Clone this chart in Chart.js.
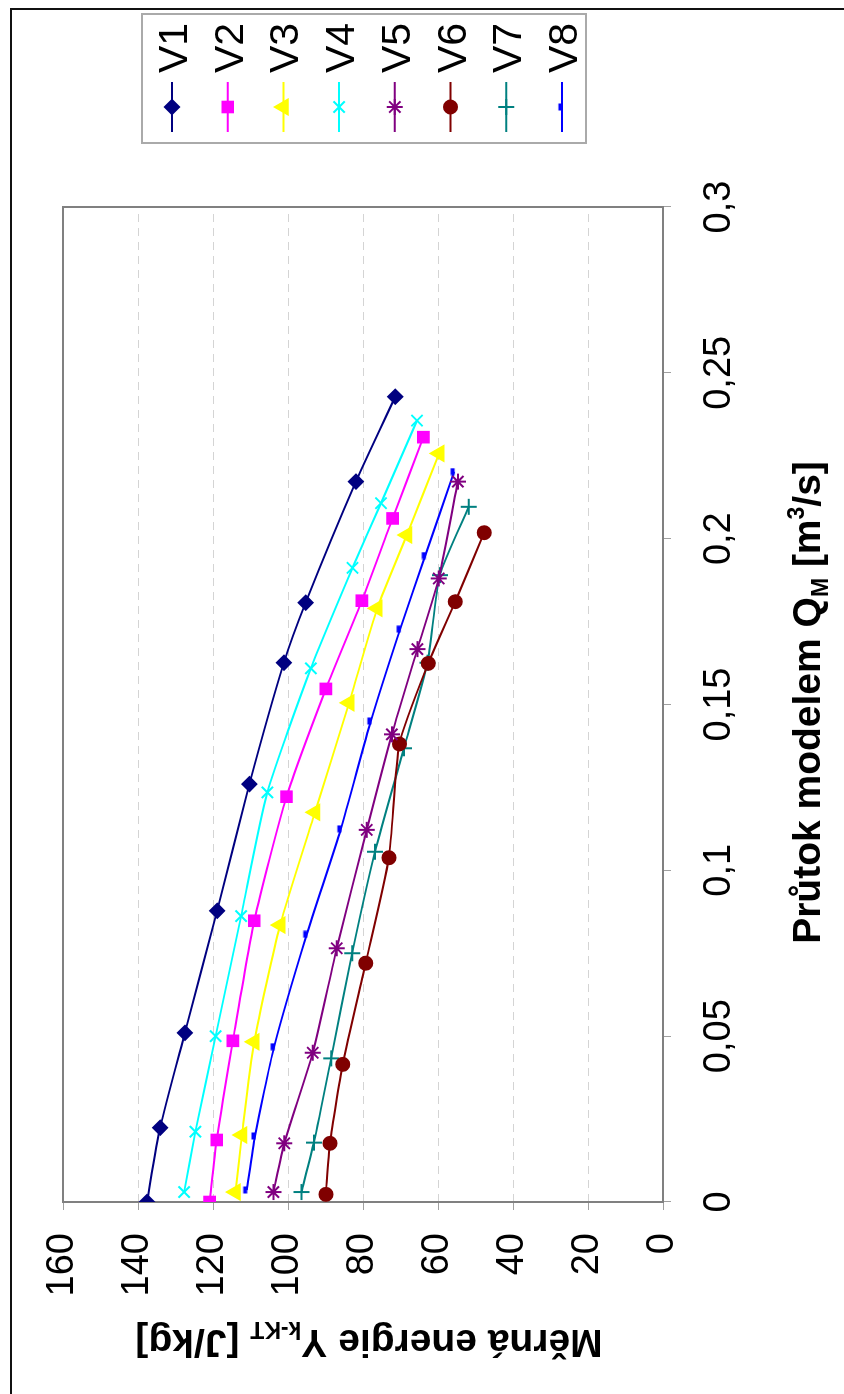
<!DOCTYPE html>
<html>
<head>
<meta charset="utf-8">
<title>Měrná energie</title>
<script src="https://cdn.jsdelivr.net/npm/chart.js@4.4.1/dist/chart.umd.min.js"></script>
<style>
html, body { margin: 0; padding: 0; background: #fff; width: 844px; height: 1394px; overflow: hidden; }
/* graf je kreslen na sirku a otocen o 90 stupnu proti smeru hodin */
#otoceni { position: absolute; left: 0; top: 0; width: 1394px; height: 844px;
  transform-origin: 0 0; transform: translate(0, 1394px) rotate(-90deg); }
#ramecek { position: absolute; left: -10px; top: 10px; width: 1396px; height: 850px;
  border-top: 2px solid #111; border-right: 2px solid #111; box-sizing: border-box; }
#graf { position: absolute; left: 0; top: 0; }
</style>
</head>
<body>
<div id="otoceni">
  <div id="ramecek"></div>
  <canvas id="graf" width="1394" height="844"></canvas>
</div>
<script>
// data: prutok Q [m3/s] a merna energie Y [J/kg]
const serie = ['V1', 'V2', 'V3', 'V4', 'V5', 'V6', 'V7', 'V8'];
const barvy = ['#000080', '#ff00ff', '#ffff00', '#00ffff', '#800080', '#800000', '#008080', '#0000ff'];

const q1 = [0, 0.0224, 0.051, 0.0878, 0.126, 0.1626, 0.1807, 0.2172, 0.2428];
const e1 = [137.6, 134.1, 127.5, 118.9, 110.3, 101.1, 95.3, 81.9, 71.4];
const q2 = [0, 0.0187, 0.0486, 0.0848, 0.1222, 0.1547, 0.1813, 0.2061, 0.2306];
const e2 = [120.9, 119.0, 114.7, 109.0, 100.4, 89.9, 80.3, 72.1, 63.9];
const q3 = [0.003, 0.0202, 0.0483, 0.0835, 0.1175, 0.1505, 0.179, 0.2011, 0.2257];
const e3 = [114.0, 112.3, 109.0, 102.1, 92.8, 83.7, 76.2, 68.3, 59.7];
const q4 = [0.003, 0.0212, 0.05, 0.0862, 0.1235, 0.1609, 0.1912, 0.2107, 0.2356];
const e4 = [127.7, 124.7, 119.3, 112.5, 105.5, 93.9, 82.8, 75.2, 65.6];
const q5 = [0.003, 0.0177, 0.045, 0.0765, 0.1122, 0.141, 0.1667, 0.188, 0.2172];
const e5 = [103.9, 101.0, 93.4, 87.0, 79.0, 72.3, 65.5, 59.8, 54.7];
const q6 = [0.0023, 0.0177, 0.0415, 0.072, 0.1038, 0.1381, 0.1624, 0.181, 0.2018];
const e6 = [89.9, 88.8, 85.4, 79.3, 73.1, 70.3, 62.6, 55.4, 47.7];
const q7 = [0.003, 0.0179, 0.0433, 0.075, 0.1056, 0.1368, 0.1626, 0.189, 0.2096];
const e7 = [96.4, 93.1, 88.5, 82.9, 76.8, 69.1, 62.8, 59.5, 51.8];
const q8 = [0.0036, 0.0199, 0.0468, 0.0807, 0.1125, 0.145, 0.1727, 0.1949, 0.2202];
const e8 = [111.0, 108.8, 103.7, 95.0, 85.9, 77.9, 70.1, 63.4, 55.7];

const prutoky = [q1, q2, q3, q4, q5, q6, q7, q8];
const energie = [e1, e2, e3, e4, e5, e6, e7, e8];

const ticksX = [0, 0.05, 0.1, 0.15, 0.2, 0.25, 0.3];
const ticksY = [0, 20, 40, 60, 80, 100, 120, 140, 160];

const pismo = '"Liberation Sans", Arial, sans-serif';

// znacka "carka" pro V8 (kratky obdelnik nad carou)
function znackaCarka(barva) {
    const c = document.createElement('canvas');
    c.width = 8; c.height = 10;
    const g = c.getContext('2d');
    g.fillStyle = barva;
    g.fillRect(0.5, 1.5, 7, 4);
    return c;
}

const znacky = [
    { styl: 'rectRot', r: 7 },
    { styl: 'rect', r: 7.5 },
    { styl: 'triangle', r: 8.5 },
    { styl: 'crossRot', r: 8 },
    { styl: 'star', r: 8 },
    { styl: 'circle', r: 6.5 },
    { styl: 'cross', r: 8 },
    { styl: znackaCarka(barvy[7]), r: 4 }
];

const datasets = serie.map(function(nazev, i) {
    return {
        label: nazev,
        data: prutoky[i].map((q, j) => ({ x: q, y: energie[i][j] })),
        showLine: true,
        borderColor: barvy[i],
        backgroundColor: barvy[i],
        borderWidth: 2,
        tension: 0.2,
        pointStyle: znacky[i].styl,
        pointRadius: znacky[i].r,
        pointBorderWidth: 2,
        pointBorderColor: barvy[i],
        pointBackgroundColor: barvy[i]
    };
});

// text s dolnimi / hornimi indexy
function kresliTitulek(ctx, casti, x, y, vel) {
    const f = { '': 'bold ' + vel + 'px ' + pismo, sub: 'bold ' + Math.round(vel * 0.6) + 'px ' + pismo };
    f.sup = f.sub;
    let w = 0;
    casti.forEach(function(c) { ctx.font = f[c[1]]; w += ctx.measureText(c[0]).width; });
    let cx = x - w / 2;
    ctx.textAlign = 'left';
    ctx.textBaseline = 'alphabetic';
    casti.forEach(function(c) {
        ctx.font = f[c[1]];
        const dy = c[1] === 'sub' ? vel * 0.2 : (c[1] === 'sup' ? -vel * 0.42 : 0);
        ctx.fillText(c[0], cx, y + dy);
        cx += ctx.measureText(c[0]).width;
    });
}

const ramPlugin = {
    id: 'ram',
    beforeDatasetsDraw(chart) {
        const a = chart.chartArea, ctx = chart.ctx;
        ctx.save();
        ctx.strokeStyle = '#808080';
        ctx.lineWidth = 2;
        ctx.strokeRect(a.left, a.top, a.right - a.left, a.bottom - a.top);
        ctx.restore();
    }
};

const titulkyPlugin = {
    id: 'titulky',
    afterDraw(chart) {
        const a = chart.chartArea, ctx = chart.ctx;
        ctx.save();
        ctx.fillStyle = '#000';
        kresliTitulek(ctx, [['Průtok modelem Q', ''], ['M', 'sub'], [' [m', ''], ['3', 'sup'], ['/s]', '']],
            (a.left + a.right) / 2 + 2, 820, 39);
        ctx.translate(64, (a.top + a.bottom) / 2 + 6);
        ctx.rotate(-Math.PI / 2);
        kresliTitulek(ctx, [['Měrná energie Y', ''], ['k-KT', 'sub'], [' [J/kg]', '']], 0, 0, 39);
        ctx.restore();
    }
};

const legendaPlugin = {
    id: 'legenda',
    afterDraw(chart) {
        const ctx = chart.ctx;
        ctx.save();
        ctx.fillStyle = '#fff';
        ctx.fillRect(1251, 142, 129, 444);
        ctx.strokeStyle = '#aaaaaa';
        ctx.lineWidth = 2;
        ctx.strokeRect(1251, 142, 129, 444);
        serie.forEach(function(nazev, i) {
            const y = 172 + i * 55.7;
            ctx.strokeStyle = barvy[i];
            ctx.lineWidth = 2;
            ctx.beginPath();
            ctx.moveTo(1262, y);
            ctx.lineTo(1312, y);
            ctx.stroke();
            ctx.fillStyle = barvy[i];
            Chart.helpers.drawPoint(ctx, {
                pointStyle: znacky[i].styl, radius: znacky[i].r, rotation: 0, borderWidth: 2
            }, 1287, y);
            ctx.fillStyle = '#000';
            ctx.font = '41px ' + pismo;
            ctx.textAlign = 'left';
            ctx.textBaseline = 'alphabetic';
            ctx.fillText(nazev, 1321, y + 15);
        });
        ctx.restore();
    }
};

function formatCarka(v) {
    return String(Math.round(v * 100) / 100).replace('.', ',');
}

new Chart(document.getElementById('graf'), {
    type: 'scatter',
    data: { datasets: datasets },
    options: {
        responsive: false,
        animation: false,
        devicePixelRatio: 1,
        layout: { padding: { left: 0, right: 207, top: 63, bottom: 0 } },
        plugins: { legend: { display: false }, tooltip: { enabled: false } },
        scales: {
            x: {
                type: 'linear', min: ticksX[0], max: ticksX[ticksX.length - 1],
                afterFit: function(s) { s.height = 181; },
                afterBuildTicks: function(s) { s.ticks = ticksX.map(v => ({ value: v })); },
                ticks: { padding: 26, color: '#000', font: { family: pismo, size: 38 }, maxRotation: 0, autoSkip: false, callback: formatCarka },
                grid: { drawOnChartArea: false, tickLength: 8, tickColor: '#a0a0a0', lineWidth: 1 },
                border: { display: false }
            },
            y: {
                type: 'linear', min: ticksY[0], max: ticksY[ticksY.length - 1],
                afterFit: function(s) { s.width = 192; },
                afterBuildTicks: function(s) { s.ticks = ticksY.map(v => ({ value: v })); },
                ticks: { padding: 23, color: '#000', font: { family: pismo, size: 38 }, autoSkip: false },
                grid: { color: '#d4d4d4', lineWidth: 1, tickLength: 8, tickColor: '#a0a0a0' },
                border: { display: false, dash: [8, 6] }
            }
        }
    },
    plugins: [ramPlugin, titulkyPlugin, legendaPlugin]
});
</script>
</body>
</html>
